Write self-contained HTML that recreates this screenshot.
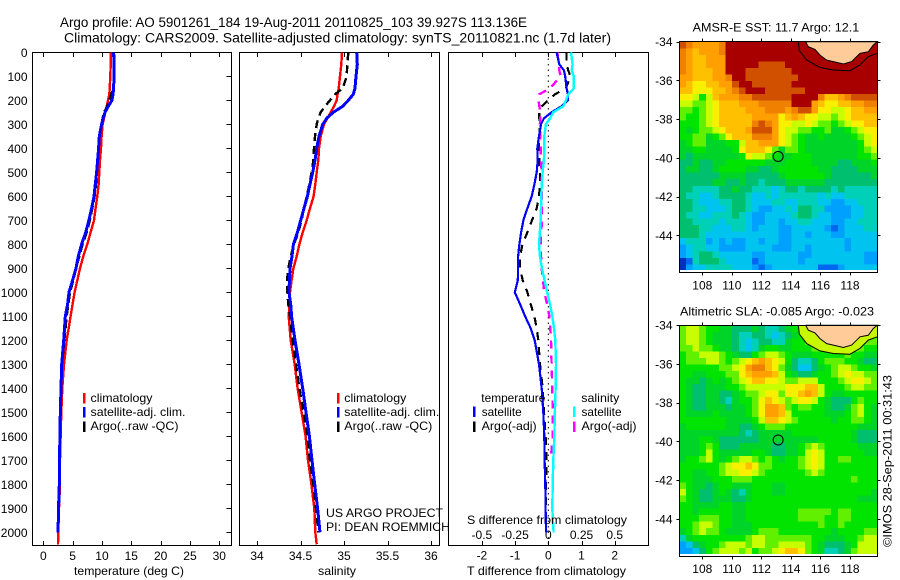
<!DOCTYPE html>
<html>
<head>
<meta charset="utf-8">
<title>Argo profile</title>
<style>
html,body{margin:0;padding:0;background:#fff;width:900px;height:580px;overflow:hidden}
svg{display:block}
text{font-family:"Liberation Sans",sans-serif;font-size:12px;fill:#000}
.title{font-size:13.5px}
</style>
</head>
<body>
<svg id="fig" xmlns="http://www.w3.org/2000/svg" width="900" height="580" viewBox="0 0 900 580">
<text class="title" x="60" y="27" textLength="467" lengthAdjust="spacingAndGlyphs">Argo profile: AO 5901261_184 19-Aug-2011 20110825_103 39.927S 113.136E</text>
<text class="title" x="64" y="42.5" textLength="547" lengthAdjust="spacingAndGlyphs">Climatology: CARS2009. Satellite-adjusted climatology: synTS_20110821.nc (1.7d later)</text>

<g id="maps"></g>
<g id="profiles"></g>

<g>
<text x="74" y="575" textLength="110" lengthAdjust="spacingAndGlyphs">temperature (deg C)</text>
<text x="318" y="575" textLength="38" lengthAdjust="spacingAndGlyphs">salinity</text>
<text x="467" y="575" textLength="159" lengthAdjust="spacingAndGlyphs">T difference from climatology</text>
<text x="467" y="524" textLength="160" lengthAdjust="spacingAndGlyphs">S difference from climatology</text>
</g>

<g shape-rendering="crispEdges">
<rect x="83" y="393" width="2.5" height="10.5" fill="#ff0000"/>
<rect x="83" y="407" width="2.5" height="10.5" fill="#0000ff"/>
<rect x="83" y="421.5" width="2.5" height="10.5" fill="#000"/>
<text x="90.5" y="402" textLength="62" lengthAdjust="spacingAndGlyphs">climatology</text>
<text x="90.5" y="416" textLength="95" lengthAdjust="spacingAndGlyphs">satellite-adj. clim.</text>
<text x="90.5" y="430" textLength="88" lengthAdjust="spacingAndGlyphs">Argo(..raw -QC)</text>
</g>

<g shape-rendering="crispEdges">
<rect x="337" y="393" width="2.5" height="10.5" fill="#ff0000"/>
<rect x="337" y="407" width="2.5" height="10.5" fill="#0000ff"/>
<rect x="337" y="421.5" width="2.5" height="10.5" fill="#000"/>
<text x="344.3" y="402" textLength="62" lengthAdjust="spacingAndGlyphs">climatology</text>
<text x="344.3" y="416" textLength="95" lengthAdjust="spacingAndGlyphs">satellite-adj. clim.</text>
<text x="344.3" y="430" textLength="88" lengthAdjust="spacingAndGlyphs">Argo(..raw -QC)</text>
<text x="326" y="517" textLength="117" lengthAdjust="spacingAndGlyphs">US ARGO PROJECT</text>
<text x="326" y="531" textLength="124" lengthAdjust="spacingAndGlyphs">PI: DEAN ROEMMICH</text>
</g>

<g shape-rendering="crispEdges">
<text x="481.3" y="402" textLength="64" lengthAdjust="spacingAndGlyphs">temperature</text>
<rect x="473" y="406.7" width="2.5" height="10.5" fill="#0000ff"/>
<rect x="473" y="421.7" width="2.5" height="10.5" fill="#000"/>
<text x="481.7" y="416" textLength="40" lengthAdjust="spacingAndGlyphs">satellite</text>
<text x="481.7" y="430" textLength="55" lengthAdjust="spacingAndGlyphs">Argo(-adj)</text>
<text x="581.3" y="402" textLength="38" lengthAdjust="spacingAndGlyphs">salinity</text>
<rect x="573" y="406.7" width="2.5" height="10.5" fill="#00ffff"/>
<rect x="573" y="421.7" width="2.5" height="10.5" fill="#ff00ff"/>
<text x="581.5" y="416" textLength="40" lengthAdjust="spacingAndGlyphs">satellite</text>
<text x="581.5" y="430" textLength="55" lengthAdjust="spacingAndGlyphs">Argo(-adj)</text>
</g>

<text x="692.7" y="31.7" textLength="166.5" lengthAdjust="spacingAndGlyphs">AMSR-E SST: 11.7 Argo: 12.1</text>
<text x="680" y="315.7" textLength="194" lengthAdjust="spacingAndGlyphs">Altimetric SLA: -0.085 Argo: -0.023</text>
<text transform="translate(891.5 547) rotate(-90)" textLength="172" lengthAdjust="spacingAndGlyphs">©IMOS 28-Sep-2011 00:31:43</text>
</svg>

<script>
/* ---------- profile data ---------- */
const depths = [0,50,100,150,175,200,225,250,275,300,350,400,450,500,550,600,650,700,750,800,850,900,950,1000,1050,1100,1200,1300,1400,1500,1600,1700,1800,1900,2000,2050];
const tempClimatology = [11.48,11.48,11.42,11.31,11.25,11.02,10.8,10.57,10.34,10.11,9.94,9.83,9.66,9.55,9.43,9.2,8.92,8.64,8.07,7.5,6.82,6.25,5.8,5.34,5,4.66,3.98,3.52,3.24,3.07,2.95,2.84,2.84,2.67,2.56,2.5];
const tempSatellite = [11.99,12.05,12.05,11.99,11.88,11.7,11.08,10.51,10.23,9.94,9.55,9.43,9.26,9.09,8.86,8.64,8.24,7.78,7.22,6.53,5.97,5.57,5,4.38,4.15,3.75,3.47,3.13,3.01,2.9,2.84,2.73,2.73,2.61,2.5,null];
const tempArgo = [12.05,12.1,12.16,11.93,11.59,11.25,10.91,10.34,10.11,9.94,9.55,9.43,9.32,9.15,8.98,8.75,8.35,7.95,7.39,6.7,6.14,5.57,5.11,4.55,4.26,3.98,3.58,3.18,3.07,2.95,2.84,2.67,2.67,2.5,2.5,null];
const salClimatology = [34.977,34.969,34.954,34.939,34.927,34.916,34.885,34.847,34.808,34.770,34.732,34.713,34.705,34.686,34.670,34.651,34.609,34.571,34.525,34.487,34.456,34.418,34.398,34.379,34.372,34.364,34.387,34.433,34.467,34.513,34.559,34.586,34.625,34.659,34.670,34.686];
const salSatellite = [35.146,35.153,35.138,35.126,35.107,35.050,34.985,34.877,34.801,34.755,34.713,34.686,34.667,34.640,34.609,34.579,34.540,34.502,34.464,34.418,34.402,34.379,34.372,34.368,34.387,34.398,34.437,34.483,34.525,34.563,34.602,34.632,34.663,34.697,34.724,null];
const salArgo = [35.050,35.038,35.031,34.985,34.897,34.839,34.782,34.732,34.705,34.686,34.667,34.655,34.648,34.628,34.602,34.571,34.540,34.513,34.475,34.425,34.387,34.360,34.345,34.349,34.360,34.379,34.410,34.448,34.487,34.533,34.579,34.609,34.648,34.678,34.705,null];

const diffDepths = [0,50,75,100,150,175,200,225,250,275,300,350,400,450,500,550,600,650,700,750,800,850,900,950,1000,1050,1100,1150,1200,1300,1400,1500,1600,1700,1800,1900,2000];
const tDiffSatellite = [0.25,0.33,0.47,0.51,0.55,0.59,0.59,0.40,0.10,-0.13,-0.22,-0.28,-0.33,-0.32,-0.35,-0.42,-0.50,-0.63,-0.75,-0.82,-0.87,-0.91,-0.91,-0.92,-1.01,-0.85,-0.70,-0.53,-0.41,-0.28,-0.20,-0.15,-0.12,-0.11,-0.09,-0.08,-0.07];
const tDiffArgo = [0.55,0.55,0.60,0.67,0.53,0.20,0,-0.20,-0.27,-0.27,-0.25,-0.27,-0.28,-0.27,-0.25,-0.25,-0.28,-0.35,-0.49,-0.63,-0.78,-0.85,-0.85,-0.77,-0.63,-0.53,-0.42,-0.35,-0.30,-0.25,-0.17,-0.13,-0.08,-0.05,-0.07,-0.07,-0.07];
const sDiffSatellite = [0.171,0.183,0.176,0.193,0.193,0.151,0.133,0.113,0.038,0.013,-0.018,-0.030,-0.030,-0.033,-0.043,-0.050,-0.053,-0.055,-0.058,-0.063,-0.070,-0.063,-0.048,-0.028,-0.008,0.013,0.030,0.043,0.053,0.058,0.055,0.050,0.045,0.038,0.033,0.030,0.040];
const sDiffArgo = [0.068,0.080,0.083,0.093,0.013,-0.068,-0.073,-0.068,-0.058,-0.060,-0.063,-0.060,-0.058,-0.055,-0.050,-0.050,-0.050,-0.048,-0.048,-0.053,-0.058,-0.055,-0.050,-0.040,-0.030,-0.008,0.008,0.015,0.020,0.025,0.030,0.033,0.033,0.018,null,null,null];

const depthTicks = [0,100,200,300,400,500,600,700,800,900,1000,1100,1200,1300,1400,1500,1600,1700,1800,1900,2000];
const tempTicks = [0,5,10,15,20,25,30];
const salTicks = [34,34.5,35,35.5,36];
const tDiffTicks = [-2,-1,0,1,2];
const sDiffTicks = [-0.5,-0.25,0,0.25,0.5];

/* ---------- map data: colour level per grid cell, north to south, west to east ---------- */
const sstGrid = [
[14,13,12,12,12,12,13,15,15,15,15,15,15,15,15,15,15,15,15,15,15,15,15,15,15,15,15,15,15,15],
[13,12,11,12,12,12,13,15,15,15,15,15,15,15,15,15,15,15,15,15,15,15,15,15,15,15,15,15,15,15],
[13,12,11,11,12,12,12,15,15,15,15,15,15,15,15,15,15,15,15,15,15,15,15,15,15,15,15,15,15,15],
[13,12,11,11,12,12,12,15,15,15,15,15,14,14,14,14,15,15,15,15,15,15,15,15,15,15,15,15,15,15],
[13,12,11,11,11,12,12,15,15,15,14,14,14,14,14,14,14,15,15,15,15,15,15,15,15,15,15,15,15,15],
[12,12,11,11,11,12,12,13,15,15,14,14,14,14,14,14,14,14,15,15,15,15,15,15,15,15,15,15,15,15],
[12,11,10,10,11,11,12,12,14,15,15,14,14,14,14,14,14,15,15,15,15,15,15,15,15,15,15,15,15,15],
[11,11,10,10,10,11,11,12,13,14,15,15,15,14,14,14,14,14,14,15,15,15,15,15,15,15,15,15,15,15],
[10,10,9,7,9,11,12,12,12,13,13,14,14,14,14,14,14,15,15,15,15,13,11,11,12,13,14,14,14,14],
[9,9,8,8,9,10,11,11,11,12,12,12,13,13,13,13,13,15,15,15,12,11,10,10,11,11,12,12,13,13],
[8,8,7,8,9,10,11,11,11,11,12,12,12,13,13,13,12,13,14,14,12,10,10,9,9,10,11,11,12,12],
[8,7,7,8,9,10,11,11,11,11,11,12,12,12,12,10,11,12,11,10,10,9,9,8,9,10,11,11,11,11],
[7,7,7,8,9,10,11,11,11,11,11,13,14,13,12,10,10,9,9,10,9,8,8,7,8,9,10,10,11,11],
[7,6,7,8,8,9,10,11,11,11,12,14,14,14,12,10,9,9,8,8,7,7,8,6,6,7,8,9,10,10],
[7,7,8,8,6,7,8,10,11,11,11,13,13,13,12,10,9,8,7,6,6,7,6,6,6,6,7,8,9,10],
[6,7,8,8,6,6,6,7,7,9,11,11,12,12,12,10,9,8,7,6,6,6,6,6,6,6,6,7,9,10],
[6,6,7,7,6,6,6,6,7,10,11,11,11,10,8,6,8,8,7,6,6,6,6,6,6,6,6,7,8,9],
[6,5,6,6,6,6,6,6,6,7,10,9,9,8,7,6,6,7,7,7,6,6,6,6,6,6,6,7,7,8],
[5,5,6,5,5,6,6,7,7,7,7,7,7,6,6,6,7,7,7,7,6,6,6,6,5,5,6,6,6,7],
[5,6,6,5,5,6,7,7,7,7,6,6,5,5,6,7,7,7,7,7,7,6,6,5,5,5,5,6,6,6],
[5,5,5,5,5,5,6,6,6,6,5,5,5,5,5,6,7,7,7,7,7,7,6,5,5,5,5,5,5,6],
[5,5,5,5,5,6,6,5,5,6,5,5,4,5,5,5,6,6,6,6,6,6,5,5,5,5,5,5,5,5],
[5,5,4,4,4,4,5,5,6,5,5,4,4,4,3,4,5,5,4,5,5,5,5,4,5,4,4,4,4,4],
[5,4,4,3,3,4,5,5,5,5,4,3,3,4,3,4,4,4,4,4,4,3,4,3,3,4,4,4,4,4],
[5,5,4,3,3,3,4,4,5,5,4,3,3,3,4,4,3,3,4,4,4,3,3,2,2,3,3,4,4,4],
[5,5,4,4,3,3,3,4,5,5,4,3,2,2,3,3,4,3,5,5,4,4,2,2,2,2,3,3,4,4],
[5,4,4,3,3,4,4,4,5,4,3,2,2,3,3,3,3,4,5,5,4,3,3,2,2,2,3,3,4,4],
[5,5,4,4,4,4,3,4,4,4,3,2,2,3,3,2,3,3,4,4,3,3,3,2,2,3,3,4,4,4],
[5,5,5,4,4,3,3,3,4,4,3,2,3,3,3,2,2,3,3,3,3,3,2,1,2,3,3,3,4,4],
[5,5,5,4,3,3,3,3,3,3,3,3,3,3,3,2,2,3,3,2,3,3,3,2,2,3,3,3,3,3],
[3,4,4,4,2,3,2,3,2,2,3,3,2,3,3,2,2,3,3,3,3,3,3,3,3,2,3,3,3,3],
[2,3,4,4,3,3,2,2,2,2,3,3,3,3,2,2,2,3,3,2,3,3,3,3,3,2,3,3,3,3],
[2,3,4,5,5,4,3,3,3,3,3,2,2,3,3,3,3,3,2,2,3,3,3,3,3,3,3,3,2,2],
[0,1,4,5,5,5,4,3,3,3,3,1,2,3,3,3,3,3,2,3,3,3,3,3,3,3,3,3,2,2],
[0,2,3,3,4,4,4,4,3,3,3,2,1,2,3,3,3,3,3,3,3,1,1,1,2,3,3,3,3,3]
];
const slaGrid = [
[8,9,9,8,7,7,6,6,5,5,5,6,5,4,4,5,6,7,8,9,9,9,9,9,9,9,9,9,9,9],
[8,9,9,8,7,6,6,6,5,4,4,5,5,4,3,4,5,6,7,8,9,9,9,9,9,9,9,9,9,8],
[8,9,9,8,7,6,6,6,5,4,3,4,5,5,4,4,6,7,7,8,9,9,9,9,9,9,9,9,8,8],
[8,8,9,8,8,7,6,6,5,4,3,4,6,7,7,6,6,7,7,7,8,8,8,9,9,9,9,8,7,7],
[7,8,8,9,9,9,8,7,6,5,5,7,8,9,9,8,7,6,6,6,7,7,7,7,7,8,7,7,6,6],
[7,8,8,8,9,9,8,7,8,9,10,11,12,11,10,9,7,5,4,4,5,7,8,8,8,7,7,6,5,5],
[7,7,7,7,7,7,8,8,9,10,12,13,13,11,10,8,6,5,3,3,5,6,7,8,9,9,8,7,7,6],
[7,7,6,6,7,7,7,8,8,10,11,12,12,12,11,9,7,6,5,5,6,7,7,8,9,10,9,9,8,8],
[7,6,6,5,6,7,6,7,8,9,10,11,11,10,10,9,8,8,9,9,9,7,7,7,8,9,10,10,9,8],
[7,6,5,5,6,6,6,7,7,8,9,9,9,9,9,9,10,10,10,11,11,9,7,7,7,8,9,9,8,8],
[7,6,5,5,6,6,5,5,6,7,8,8,9,10,10,8,10,10,11,12,11,9,7,6,6,7,7,7,7,7],
[7,6,5,5,6,6,5,4,6,7,7,8,10,11,10,9,8,9,10,10,9,7,6,5,5,5,7,8,7,7],
[7,6,5,5,6,6,6,5,6,6,7,8,10,12,12,11,8,7,8,8,7,7,6,5,5,6,8,9,7,6],
[7,6,6,6,6,7,6,6,6,6,7,8,10,12,12,11,9,7,7,7,7,7,6,6,6,7,8,9,7,6],
[7,7,7,7,7,7,7,6,6,6,6,7,9,11,11,10,9,8,7,7,7,7,7,6,7,7,8,8,7,6],
[6,7,7,7,7,7,7,6,6,5,5,6,7,8,8,8,7,7,7,7,7,7,7,7,7,7,7,6,6,6],
[6,6,6,6,6,6,6,6,6,5,4,5,6,6,6,6,6,7,7,7,7,7,7,7,7,7,6,5,5,5],
[6,6,6,7,7,6,5,5,5,5,5,5,6,6,6,6,6,6,6,6,6,7,7,7,7,7,6,5,5,5],
[6,6,6,7,8,7,5,5,5,6,6,6,6,6,5,5,6,6,7,8,9,8,7,7,7,7,7,6,6,6],
[6,6,6,7,9,7,6,6,6,6,6,7,7,6,5,5,6,6,7,9,10,9,7,7,7,7,7,7,6,6],
[6,7,7,8,9,7,6,7,8,9,9,8,7,8,7,6,7,7,8,9,10,9,7,7,8,8,7,7,7,7],
[7,7,7,7,7,7,8,9,10,10,11,10,8,8,7,7,7,7,8,9,10,9,7,7,7,7,7,7,7,7],
[7,7,6,6,7,7,8,9,9,10,10,9,8,7,7,7,7,7,7,8,9,8,7,7,7,7,7,7,7,7],
[7,7,6,6,6,7,7,7,8,8,8,7,7,7,7,7,7,7,7,7,7,7,7,7,7,7,8,7,7,7],
[8,7,6,6,5,6,7,7,6,6,6,7,7,7,6,6,7,7,7,7,7,7,7,7,7,7,7,7,7,7],
[9,7,6,5,5,6,7,6,5,4,6,7,7,7,6,6,7,7,7,7,7,7,7,7,7,7,7,7,7,6],
[8,7,6,5,5,6,6,6,5,5,6,7,7,7,7,7,7,7,7,7,7,7,7,7,7,7,7,6,6,6],
[7,7,6,6,6,6,7,7,6,6,7,7,7,7,7,7,7,7,7,7,7,7,7,7,7,7,7,7,7,7],
[7,7,6,7,7,7,7,7,6,6,7,7,7,7,7,7,7,7,8,8,8,8,8,7,8,8,7,7,7,7],
[7,7,7,8,8,8,7,7,6,6,7,7,7,7,7,7,7,7,8,8,8,8,7,7,8,8,7,7,7,7],
[7,7,8,9,9,8,7,7,6,6,6,7,7,7,7,7,7,7,7,7,7,8,7,7,8,7,7,7,7,7],
[6,7,8,9,8,8,7,6,6,6,6,7,8,8,8,7,7,7,7,7,7,7,7,6,7,7,7,7,8,8],
[4,6,7,7,7,7,7,7,7,7,8,9,9,8,8,8,8,8,8,8,7,7,6,6,6,7,7,8,9,9],
[2,3,5,6,7,7,8,9,9,9,8,9,9,8,8,9,9,9,9,8,7,6,5,5,5,6,7,9,9,9],
[2,2,3,5,7,8,9,9,9,8,9,7,8,8,9,10,11,11,10,8,7,6,4,4,5,6,8,9,9,9]
];
const levelColors = ["#0030c0","#0068f0","#00a0ff","#00c4f0","#00d0b8","#00c070","#00d428","#00e400","#60f000","#c8ff00","#f8f000","#ffc000","#ffa000","#f08000","#d05000","#a80000"];
const lonTicks = [108,110,112,114,116,118];
const latTicks = [-34,-36,-38,-40,-42,-44];
const coastLon = [115.02,115.18,115.63,115.97,116.42,116.87,117.55,118.11,118.68,119.24,119.58,119.85];
const coastLat = [-34.03,-34.26,-34.40,-34.69,-34.95,-35.03,-35.15,-35.03,-34.60,-34.52,-34.17,-34.0];
const shelfLon = [114.5,114.57,115.07,115.97,116.87,118.0,118.68,119.24,119.85];
const shelfLat = [-34.0,-34.46,-34.95,-35.33,-35.46,-35.5,-35.2,-34.77,-34.6];
const floatLon = 113.136;
const floatLat = -39.927;

/* ---------- helpers ---------- */
const NS = "http://www.w3.org/2000/svg";
function mk(tag, attrs, parent, txt) {
  const e = document.createElementNS(NS, tag);
  for (const k in attrs) e.setAttribute(k, attrs[k]);
  if (txt !== undefined) e.textContent = txt;
  parent.appendChild(e);
  return e;
}
const yDepth = d => 52.3 + 0.24 * d;
const xTemp = t => 43.3 + 5.867 * t;
const xSal = s => 257 + 87 * (s - 34);
const xTDiff = t => 548.3 + 33.2 * t;
const xSDiff = s => 548.3 + 132.8 * s;

const profiles = document.getElementById("profiles");
function panelFrame(x0, x1, name) {
  const r = mk("rect", {x:x0, y:52.5, width:x1-x0, height:493, fill:"none", stroke:"#000", "stroke-width":1, "shape-rendering":"crispEdges"}, profiles);
  
  
}
function xTickMarks(vals, fn, name) {
  vals.forEach(v => {
    const x = Math.round(fn(v)) + 0.5;
    const t = mk("path", {d:`M${x} 52.5V57M${x} 545.5V541`, stroke:"#000", "stroke-width":1, "shape-rendering":"crispEdges"}, profiles);
    
    
  });
}
function xTickLabels(vals, fn, y, name) {
  vals.forEach(v => {
    const l = mk("text", {x:fn(v), y:y, "text-anchor":"middle"}, profiles, String(v));
    
    
  });
}
function profileLine(ds, vals, xFn, color, width, dash, name) {
  const pts = [];
  vals.forEach((v, i) => { if (v !== null) pts.push(xFn(v).toFixed(1) + "," + yDepth(ds[i]).toFixed(1)); });
  const attrs = {points:pts.join(" "), fill:"none", stroke:color, "stroke-width":width, "shape-rendering":"crispEdges"};
  if (dash) attrs["stroke-dasharray"] = dash;
  const p = mk("polyline", attrs, profiles);
  
  
}

/* ---------- panels ---------- */
panelFrame(32.5, 231.5, "temperature-panel-frame");
panelFrame(239.5, 439.5, "salinity-panel-frame");
panelFrame(448.5, 648.5, "difference-panel-frame");

depthTicks.forEach(d => {
  const y = Math.round(yDepth(d)) + 0.5;
  if (d > 0) {
    const t = mk("line", {x1:226.5, x2:231.5, y1:y, y2:y, stroke:"#000", "stroke-width":1, "shape-rendering":"crispEdges"}, profiles);
    
    
  }
  const l = mk("text", {x:27.5, y:yDepth(d) + 4.5, "text-anchor":"end"}, profiles, String(d));
  
  
});

xTickMarks(tempTicks, xTemp, "temperature-tick");
xTickLabels(tempTicks, xTemp, 560, "temperature-tick-label");
xTickMarks(salTicks, xSal, "salinity-tick");
xTickLabels(salTicks, xSal, 560, "salinity-tick-label");
xTickMarks(tDiffTicks, xTDiff, "t-difference-tick");
xTickLabels(tDiffTicks, xTDiff, 559.5, "t-difference-tick-label");
xTickLabels(sDiffTicks, xSDiff, 539, "s-difference-tick-label");

const zero = mk("line", {x1:xTDiff(0), x2:xTDiff(0), y1:53, y2:545, stroke:"#000", "stroke-width":1, "stroke-dasharray":"1.5 4"}, profiles);



profileLine(depths, tempClimatology, xTemp, "#ff0000", 2.4, null, "temperature-climatology-line");
profileLine(depths, tempArgo, xTemp, "#000", 2.4, "9 4", "temperature-argo-line");
profileLine(depths, tempSatellite, xTemp, "#0000ff", 3, null, "temperature-satellite-line");

profileLine(depths, salClimatology, xSal, "#ff0000", 2.4, null, "salinity-climatology-line");
profileLine(depths, salArgo, xSal, "#000", 2.4, "8 5", "salinity-argo-line");
profileLine(depths, salSatellite, xSal, "#0000ff", 3, null, "salinity-satellite-line");

profileLine(diffDepths, tDiffArgo, xTDiff, "#000", 2.2, "8 7", "t-difference-argo-line");
profileLine(diffDepths, sDiffArgo, xSDiff, "#ff00ff", 2.4, "8 7", "s-difference-argo-line");
profileLine(diffDepths, tDiffSatellite, xTDiff, "#0000ff", 2.2, null, "t-difference-satellite-line");
profileLine(diffDepths, sDiffSatellite, xSDiff, "#00ffff", 2.4, null, "s-difference-satellite-line");

/* ---------- maps ---------- */
const maps = document.getElementById("maps");
const gridWest = 106.45, cellLon = 0.4469, cellLat = 0.3383;
function drawMap(grid, top, prefix, showShelf) {
  const xLon = lon => 702.3 + 14.77 * (lon - 108);
  const yLat = lat => top + 19.36 * (-34 - lat);
  const g = mk("g", {"shape-rendering":"crispEdges"}, maps);
  
  
  grid.forEach((row, r) => row.forEach((v, c) => {
    const x0 = xLon(gridWest + c * cellLon), x1 = xLon(gridWest + (c + 1) * cellLon);
    const y0 = yLat(-34 - r * cellLat), y1 = yLat(-34 - (r + 1) * cellLat);
    const cell = mk("rect", {x:x0.toFixed(2), y:y0.toFixed(2), width:(x1-x0+0.4).toFixed(2), height:(y1-y0+0.4).toFixed(2), fill:levelColors[v]}, g);
    
    
  }));
  const coastPts = coastLon.map((lo, i) => xLon(lo).toFixed(1) + "," + yLat(coastLat[i]).toFixed(1));
  const shelfPts = shelfLon.map((lo, i) => xLon(lo).toFixed(1) + "," + yLat(shelfLat[i]).toFixed(1));
  if (showShelf) {
    const sf = mk("polygon", {points:shelfPts.join(" ") + " " + xLon(119.85).toFixed(1) + "," + top, fill:"#c8f800"}, maps);
    
    
  }
  const land = mk("polygon", {points:coastPts.join(" ") + " " + xLon(115.02).toFixed(1) + "," + top, fill:"#ffcc99", stroke:"#000", "stroke-width":1}, maps);
  
  
  const shelf = mk("polyline", {points:shelfPts.join(" "), fill:"none", stroke:"#000", "stroke-width":1}, maps);
  
  
  const bottom = top + 231;
  const frame = mk("rect", {x:679.5, y:Math.floor(top)+0.5, width:198, height:231, fill:"none", stroke:"#000", "stroke-width":1, "shape-rendering":"crispEdges"}, maps);
  
  
  const cover = mk("rect", {x:680, y:Math.floor(top)+229, width:197, height:2, fill:"#fff", "shape-rendering":"crispEdges"}, maps);
  
  
  lonTicks.forEach(lon => {
    const x = Math.round(xLon(lon)) + 0.5;
    const t = mk("path", {d:`M${x} ${Math.floor(top)+0.5}v-3M${x} ${Math.floor(top)+231.5}v3`, stroke:"#000", "stroke-width":1, "shape-rendering":"crispEdges"}, maps);
    
    
    const l = mk("text", {x:xLon(lon), y:bottom + 16.6, "text-anchor":"middle"}, maps, String(lon));
    
    
  });
  latTicks.forEach(lat => {
    const y = Math.round(yLat(lat)) + 0.5;
    const t = mk("path", {d:`M679.5 ${y}h-3M877.5 ${y}h3`, stroke:"#000", "stroke-width":1, "shape-rendering":"crispEdges"}, maps);
    
    
    const l = mk("text", {x:672.5, y:yLat(lat) + 4.5, "text-anchor":"end"}, maps, String(lat));
    
    
  });
  const dot = mk("circle", {cx:xLon(floatLon), cy:yLat(floatLat), r:5, fill:"none", stroke:"#000", "stroke-width":1}, maps);
  
  
}
drawMap(sstGrid, 41.7, "sst-map", false);
drawMap(slaGrid, 325.2, "sla-map", true);
</script>
</body>
</html>
